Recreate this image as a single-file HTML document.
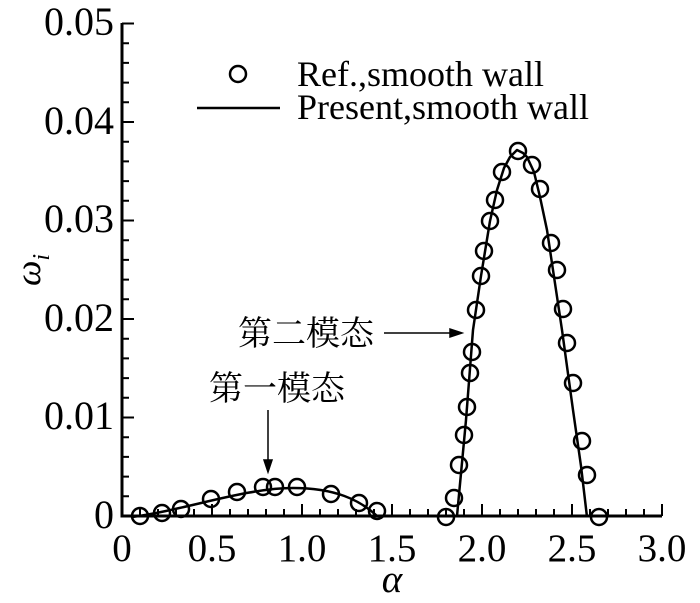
<!DOCTYPE html>
<html><head><style>
body{margin:0;background:#fff;}
text{font-family:"Liberation Serif","Noto Serif CJK SC",serif;fill:#000;}
</style></head><body>
<svg width="700" height="598" viewBox="0 0 700 598" xmlns="http://www.w3.org/2000/svg">
<g stroke="#000" stroke-width="3" fill="none">
<path d="M122,23 L122,516 L662,516"/>
</g>
<g stroke="#000" stroke-width="2">
<path d="M122,23.5h12M122,122h12M122,220.5h12M122,319h12M122,417.5h12"/>
<path d="M122,43.2h7M122,62.9h7M122,82.6h7M122,102.3h7M122,141.7h7M122,161.4h7M122,181.1h7M122,200.8h7M122,240.2h7M122,259.9h7M122,279.6h7M122,299.3h7M122,338.7h7M122,358.4h7M122,378.1h7M122,397.8h7M122,437.2h7M122,456.9h7M122,476.6h7M122,496.3h7"/>
<path d="M212,516v-12M302,516v-12M392,516v-12M482,516v-12M572,516v-12M662,516v-12"/>
<path d="M140,516v-7M158,516v-7M176,516v-7M194,516v-7M230,516v-7M248,516v-7M266,516v-7M284,516v-7M320,516v-7M338,516v-7M356,516v-7M374,516v-7M410,516v-7M428,516v-7M446,516v-7M464,516v-7M500,516v-7M518,516v-7M536,516v-7M554,516v-7M590,516v-7M608,516v-7M626,516v-7M644,516v-7"/>
</g>
<g font-size="40" text-anchor="end">
<text x="114" y="35">0.05</text>
<text x="114" y="134">0.04</text>
<text x="114" y="232">0.03</text>
<text x="114" y="331">0.02</text>
<text x="114" y="429">0.01</text>
<text x="114" y="528">0</text>
</g>
<g font-size="39" text-anchor="middle">
<text x="122" y="561">0</text>
<text x="212" y="561">0.5</text>
<text x="302" y="561">1.0</text>
<text x="392" y="561">1.5</text>
<text x="482" y="561">2.0</text>
<text x="572" y="561">2.5</text>
<text x="662" y="561">3.0</text>
<text x="392" y="592" font-style="italic">α</text>
</g>
<text transform="translate(40,270) rotate(-90)" font-size="36" font-style="italic" text-anchor="middle">ω<tspan font-size="24" dy="9">i</tspan></text>
<g stroke="#000" stroke-width="2.5" fill="none" stroke-linejoin="round">
<path d="M132,517 C185,510 245,488 293,488 C335,488 360,500 377,516"/>
<path d="M457,516 L466,420 L473,330 L481,276 L490,221 L497,190 L504,168 L510,157 L517,150 L523,153 L527,157 L534,172 L540,197 L547,230 L553,270 L562,330 L573,410 L581,466 L587,517"/>
<path d="M197,108 H280"/>
</g>
<g stroke="#000" stroke-width="2.5" fill="none">
<circle cx="140" cy="516" r="8"/><circle cx="162" cy="513" r="8"/><circle cx="181" cy="509" r="8"/><circle cx="211" cy="499" r="8"/><circle cx="237" cy="492" r="8"/><circle cx="263" cy="487" r="8"/><circle cx="275" cy="487" r="8"/><circle cx="297" cy="487" r="8"/><circle cx="331" cy="494" r="8"/><circle cx="359" cy="503" r="8"/><circle cx="377" cy="511" r="8"/>
<circle cx="446" cy="517" r="8"/><circle cx="454" cy="498" r="8"/><circle cx="459" cy="465" r="8"/><circle cx="464" cy="435" r="8"/><circle cx="467" cy="407" r="8"/><circle cx="470" cy="373" r="8"/><circle cx="472" cy="352" r="8"/><circle cx="476" cy="310" r="8"/><circle cx="481" cy="276" r="8"/><circle cx="484" cy="251" r="8"/><circle cx="490" cy="221" r="8"/><circle cx="495" cy="200" r="8"/><circle cx="502" cy="172" r="8"/><circle cx="518" cy="151" r="8"/><circle cx="532" cy="165" r="8"/><circle cx="540" cy="189" r="8"/><circle cx="551" cy="243" r="8"/><circle cx="557" cy="270" r="8"/><circle cx="563" cy="309" r="8"/><circle cx="567" cy="343" r="8"/><circle cx="573" cy="383" r="8"/><circle cx="582" cy="441" r="8"/><circle cx="587" cy="475" r="8"/><circle cx="599" cy="517" r="8"/>
<circle cx="238" cy="74" r="8"/>
</g>
<g font-size="36">
<text x="297" y="86">Ref.,smooth wall</text>
<text x="297" y="119">Present,smooth wall</text>
</g>
<g font-size="34">
<text x="238" y="345">第二模态</text>
<text x="209" y="400">第一模态</text>
</g>
<g stroke="#000" stroke-width="1.5" fill="#000">
<path d="M384,333 H452" fill="none"/><path d="M462,333 L450,329 L450,337 Z"/>
<path d="M268,410 V462" fill="none"/><path d="M268,472 L264,460 L272,460 Z"/>
</g>
</svg>
</body></html>
